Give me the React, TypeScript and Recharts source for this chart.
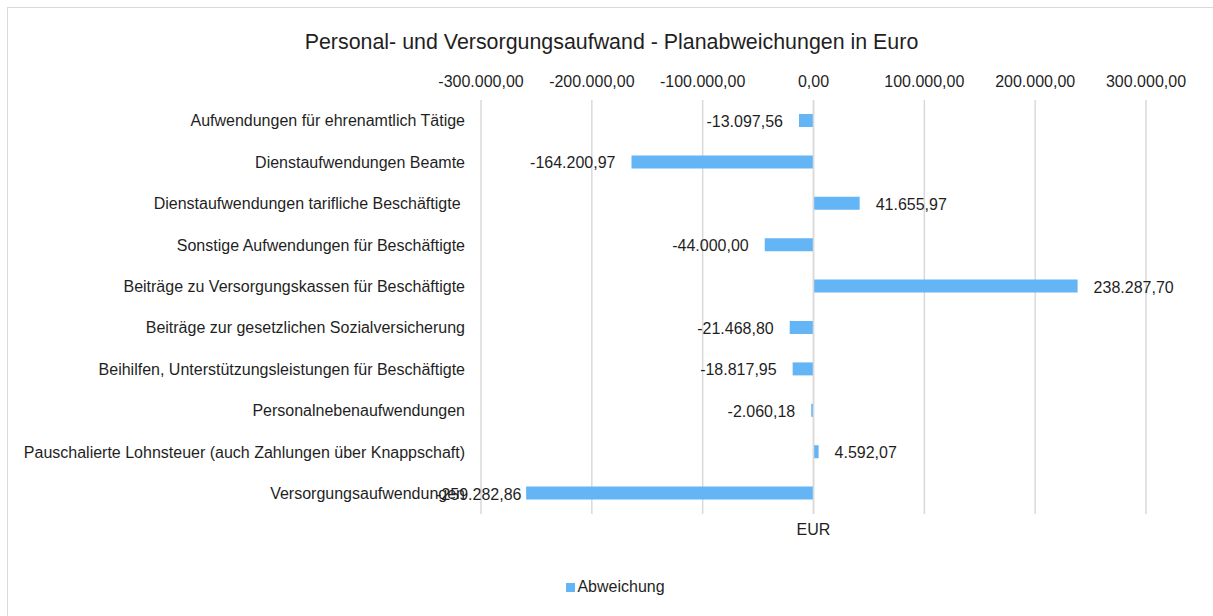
import { BarChart, Bar, XAxis, YAxis, CartesianGrid, Legend, LabelList, ReferenceLine } from 'recharts';

const categories = [
  'Aufwendungen für ehrenamtlich Tätige',
  'Dienstaufwendungen Beamte',
  'Dienstaufwendungen tarifliche Beschäftigte ',
  'Sonstige Aufwendungen für Beschäftigte',
  'Beiträge zu Versorgungskassen für Beschäftigte',
  'Beiträge zur gesetzlichen Sozialversicherung',
  'Beihilfen, Unterstützungsleistungen für Beschäftigte',
  'Personalnebenaufwendungen',
  'Pauschalierte Lohnsteuer (auch Zahlungen über Knappschaft)',
  'Versorgungsaufwendungen',
];

const abweichung = [
  -13097.56, -164200.97, 41655.97, -44000.0, 238287.7,
  -21468.8, -18817.95, -2060.18, 4592.07, -259282.86,
];

const xTicks = [-300000, -200000, -100000, 0, 100000, 200000, 300000];

const data = categories.map((name, i) => ({ name, Abweichung: abweichung[i] }));

const font = '"Liberation Sans", Arial, sans-serif';
const textColor = '#1f1f1f';
const barColor = '#64b5f6';

function fmt(v: number) {
  const neg = v < 0;
  const [i, d] = Math.abs(v).toFixed(2).split('.');
  const ip = i.replace(/\B(?=(\d{3})+(?!\d))/g, '.');
  return (neg ? '-' : '') + ip + ',' + d;
}

// rough Arial width at 16px, used to keep labels inside the chart area like Excel does
function textWidth(s: string) {
  let w = 0;
  for (const c of s) w += c === '.' || c === ',' ? 4.45 : c === '-' ? 5.33 : 8.9;
  return w;
}

const labelMinX = 428;

function ValueLabel(props: any) {
  const { x, y, width, height, value } = props;
  const left = Math.min(x, x + width);
  const right = Math.max(x, x + width);
  const neg = value < 0;
  const text = fmt(value);
  const endX = Math.max(left - 16, labelMinX + textWidth(text));
  return (
    <text
      x={neg ? endX : right + 16}
      y={y + height / 2}
      dy="0.4em"
      textAnchor={neg ? 'end' : 'start'}
      fontSize={16}
      fill={textColor}
      fontFamily={font}
    >
      {text}
    </text>
  );
}

function LegendContent() {
  return (
    <div style={{ display: 'flex', justifyContent: 'center', alignItems: 'center', height: 20, fontFamily: font, fontSize: 16, color: textColor }}>
      <span style={{ display: 'inline-block', width: 9, height: 9, background: barColor, marginRight: 2 }} />
      <span>Abweichung</span>
    </div>
  );
}

export default function App() {
  return (
    <div style={{ position: 'absolute', left: 7, top: 7, width: 1215, height: 620, border: '1px solid #d9d9d9', fontFamily: font, boxSizing: 'content-box' }}>
      <style>{'body{overflow:hidden}'}</style>
      <div style={{ position: 'absolute', top: 22, left: 0, width: 1207, textAlign: 'center', fontSize: 21.4, lineHeight: '24px', color: textColor }}>
        Personal- und Versorgungsaufwand - Planabweichungen in Euro
      </div>
      <BarChart
        width={1215}
        height={620}
        data={data}
        layout="vertical"
        margin={{ top: 62, right: 77, bottom: 94, left: 13 }}
      >
        <CartesianGrid horizontal={false} stroke="#d9d9d9" strokeWidth={1.5} />
        <XAxis
          type="number"
          orientation="top"
          domain={[-300000, 300000]}
          ticks={xTicks}
          tickFormatter={fmt}
          axisLine={false}
          tickLine={false}
          tickSize={0}
          tickMargin={13}
          height={30}
          interval={0}
          tick={{ fontSize: 16, fill: textColor, fontFamily: font }}
        />
        <YAxis
          type="category"
          dataKey="name"
          width={460}
          axisLine={false}
          tickLine={false}
          tickSize={0}
          tickMargin={16}
          interval={0}
          tick={{ fontSize: 16, fill: textColor, fontFamily: font, style: { whiteSpace: 'pre' } }}
        />
        <ReferenceLine
          x={0}
          stroke="#d9d9d9"
          strokeWidth={1.5}
          label={{ value: 'EUR', position: 'bottom', offset: 10, fill: textColor, fontSize: 16, fontFamily: font }}
        />
        <Legend
          content={<LegendContent />}
          wrapperStyle={{ top: 569, bottom: 'auto', left: 0, width: 1215, height: 20 }}
        />
        <Bar dataKey="Abweichung" fill={barColor} barSize={13} isAnimationActive={false}>
          <LabelList dataKey="Abweichung" content={<ValueLabel />} />
        </Bar>
      </BarChart>
    </div>
  );
}
